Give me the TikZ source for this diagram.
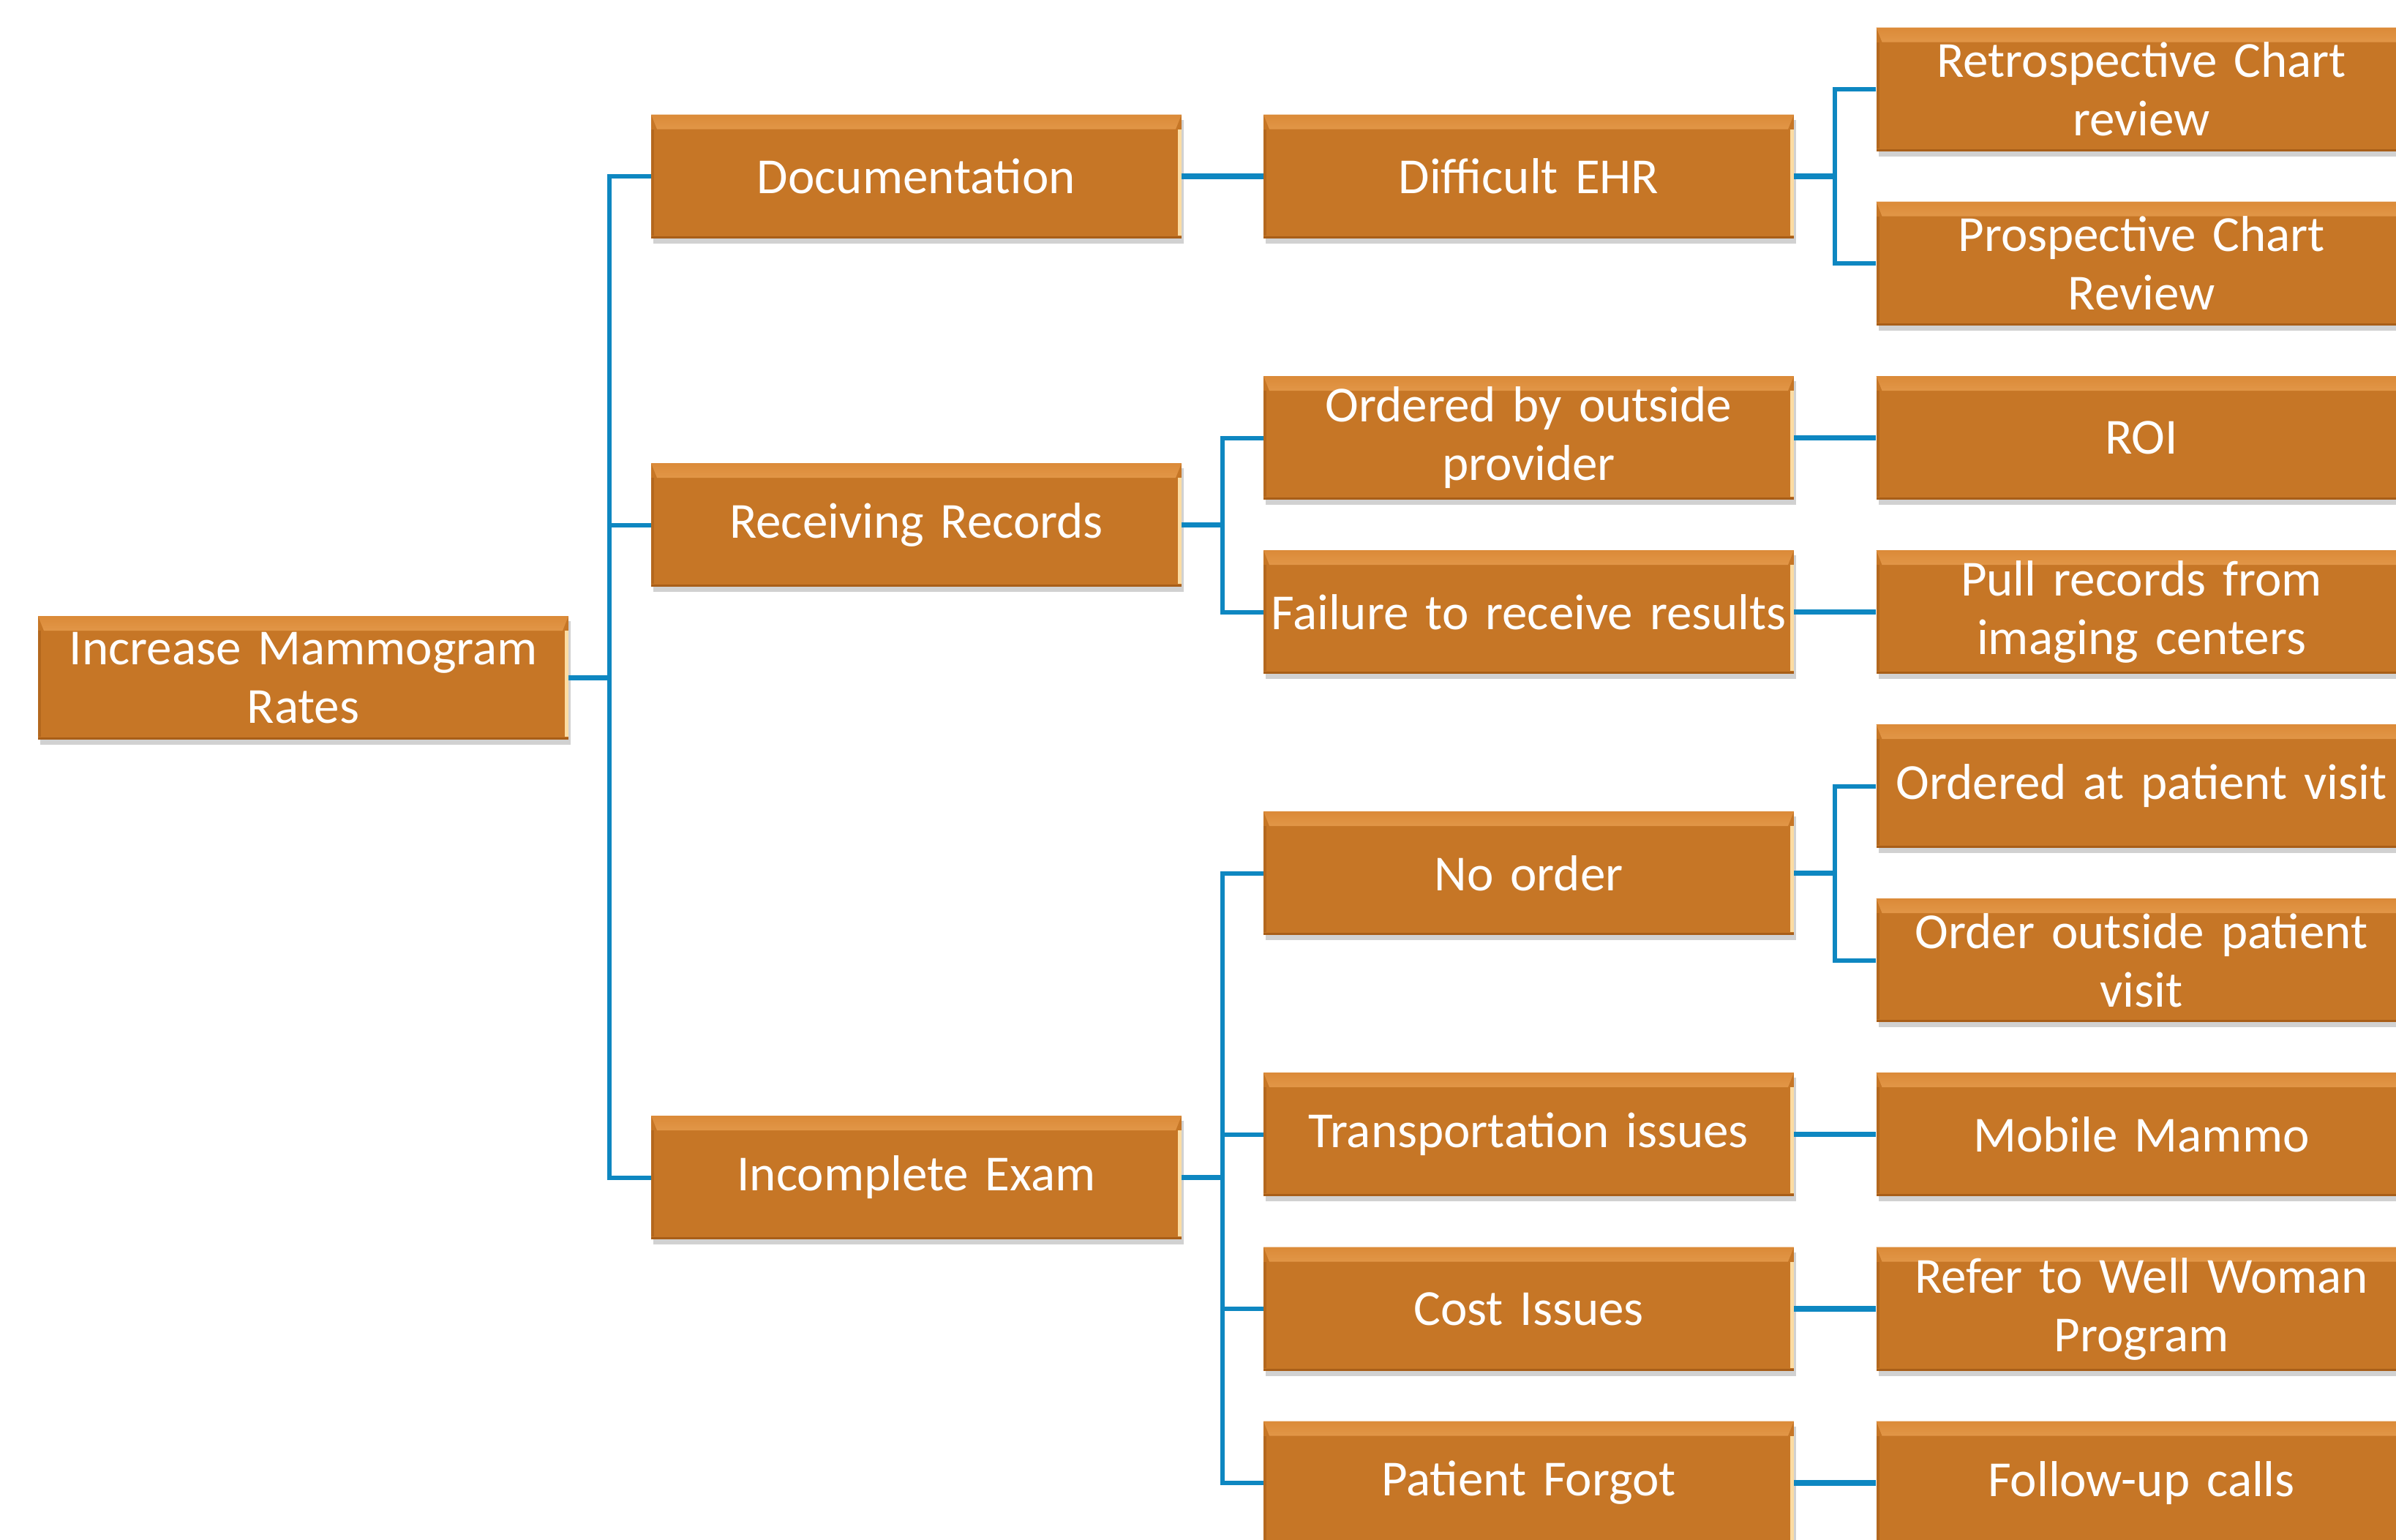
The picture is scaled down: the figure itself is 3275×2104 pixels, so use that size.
\documentclass[tikz,border=0pt]{standalone}
\usepackage{fontspec}
\setmainfont{Carlito}
\usetikzlibrary{shadows,calc}
\definecolor{boxfill}{HTML}{C67626}
\definecolor{boxtop}{HTML}{DB8A38}
\definecolor{boxlight}{HTML}{F7BE78}
\definecolor{boxcream}{HTML}{FCDCA2}
\definecolor{boxdark}{HTML}{A85E18}
\definecolor{linkblue}{HTML}{0E87C1}
\tikzset{
  box/.style={rectangle, fill=boxfill, minimum width=725pt, minimum height=169pt,
    text width=722pt, align=center, inner sep=0pt, text=white,
    font=\fontsize{69}{80}\selectfont,
    drop shadow={shadow xshift=3pt, shadow yshift=-7pt, fill=black!30, opacity=0.6},
    path picture={
      \shade[top color=boxtop, bottom color=boxfill, middle color=boxlight]
        (path picture bounding box.north west) -- (path picture bounding box.north east)
        -- ([shift={(-8pt,-20pt)}]path picture bounding box.north east)
        -- ([shift={(8pt,-20pt)}]path picture bounding box.north west) -- cycle;
      \fill[boxcream]
        ([shift={(-5pt,-20pt)}]path picture bounding box.north east)
        rectangle ([shift={(0pt,4pt)}]path picture bounding box.south east);
      \fill[boxdark!60!boxfill]
        ([shift={(0pt,-20pt)}]path picture bounding box.north west)
        rectangle ([shift={(4pt,4pt)}]path picture bounding box.south west);
      \fill[boxdark]
        (path picture bounding box.south west)
        rectangle ([shift={(0pt,3pt)}]path picture bounding box.south east);
    }},
  conn/.style={draw=linkblue, line width=6pt},
  stub/.style={draw=linkblue, line width=7.5pt}
}
\begin{document}
\begin{tikzpicture}[x=1pt,y=-1pt]
\useasboundingbox (0,0) rectangle (3275,2104);
\begin{scope}
\clip (0,0) rectangle (3275,2104);
% columns
\coordinate (b1) at (833,0);
\coordinate (b2) at (1671,0);
\coordinate (b3) at (2508,0);
% level 0
\node[box] (root) at (414.5,926.5) {Increase Mammogram\\Rates};
% level 1
\node[box] (doc) at (1252.5,241) {Documentation};
\node[box] (rec) at (1252.5,717.5) {Receiving Records};
\node[box] (inc) at (1252.5,1609.5) {Incomplete Exam};
% level 2
\node[box] (ehr) at (2089.5,241) {Difficult EHR};
\node[box] (ord) at (2089.5,598.5) {Ordered by outside\\provider};
\node[box] (fail) at (2089.5,836.5) {Failure to receive results};
\node[box] (noord) at (2089.5,1193.5) {No order};
\node[box] (trans) at (2089.5,1550.5) {Transportation issues};
\node[box] (cost) at (2089.5,1789) {Cost Issues};
\node[box] (forgot) at (2089.5,2027) {Patient Forgot};
% level 3
\node[box] (retro) at (2927,122) {Retrospective Chart\\review};
\node[box] (prosp) at (2927,360) {Prospective Chart\\Review};
\node[box] (roi) at (2927,598.5) {ROI};
\node[box] (pull) at (2927,836.5) {Pull records from\\imaging centers};
\node[box] (atvisit) at (2927,1074.5) {Ordered at patient visit};
\node[box] (outvisit) at (2927,1312.5) {Order outside patient\\visit};
\node[box] (mobile) at (2927,1550.5) {Mobile Mammo};
\node[box] (refer) at (2927,1789) {Refer to Well Woman\\Program};
\node[box] (follow) at (2927,2027) {Follow-up calls};
\end{scope}
% root to level 1
\draw[stub] (root.east) -- (root.east -| b1);
\draw[conn] (doc.west) -- (doc.west -| b1) -- (inc.west -| b1) -- (inc.west);
\draw[conn] (rec.west) -- (rec.west -| b1);
% level 1 to level 2
\draw[stub] (doc.east) -- (ehr.west);
\draw[stub] (rec.east) -- (rec.east -| b2);
\draw[conn] (ord.west) -- (ord.west -| b2) -- (fail.west -| b2) -- (fail.west);
\draw[stub] (inc.east) -- (inc.east -| b2);
\draw[conn] (noord.west) -- (noord.west -| b2) -- (forgot.west -| b2) -- (forgot.west);
\draw[conn] (trans.west) -- (trans.west -| b2);
\draw[conn] (cost.west) -- (cost.west -| b2);
% level 2 to level 3
\draw[stub] (ehr.east) -- (ehr.east -| b3);
\draw[conn] (retro.west) -- (retro.west -| b3) -- (prosp.west -| b3) -- (prosp.west);
\draw[stub] (ord.east) -- (roi.west);
\draw[stub] (fail.east) -- (pull.west);
\draw[stub] (noord.east) -- (noord.east -| b3);
\draw[conn] (atvisit.west) -- (atvisit.west -| b3) -- (outvisit.west -| b3) -- (outvisit.west);
\draw[stub] (trans.east) -- (mobile.west);
\draw[stub] (cost.east) -- (refer.west);
\draw[stub] (forgot.east) -- (follow.west);
\end{tikzpicture}
\end{document}
